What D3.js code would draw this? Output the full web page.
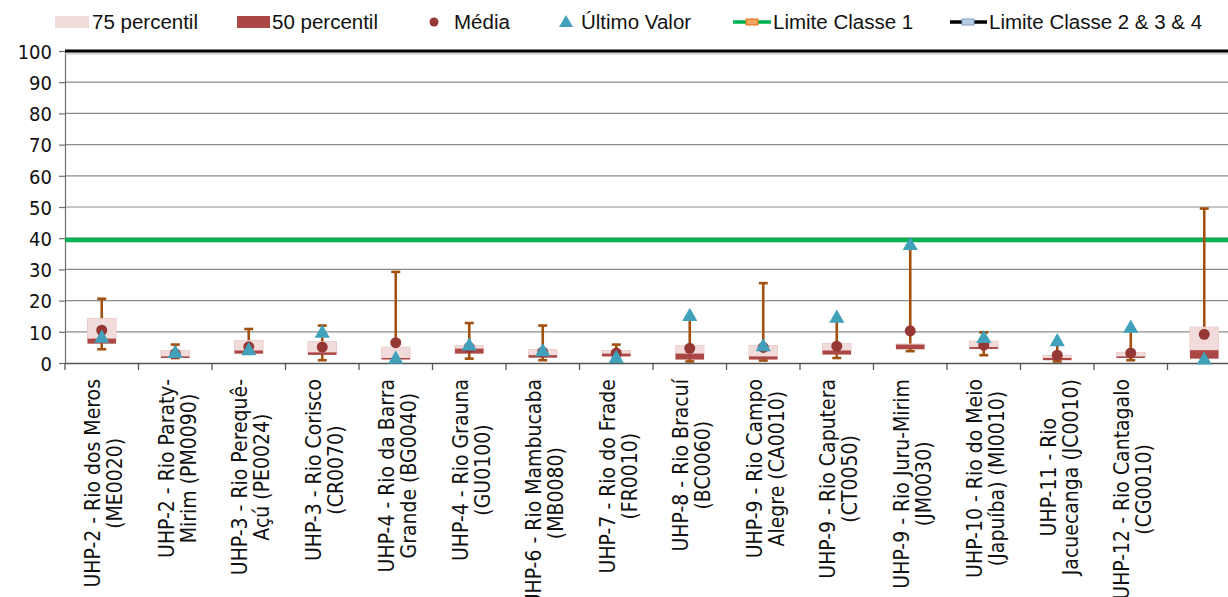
<!DOCTYPE html>
<html><head><meta charset="utf-8">
<script src="https://cdn.jsdelivr.net/npm/d3@7"></script>
<style>
html,body{margin:0;padding:0;background:#fff;overflow:hidden}
svg{display:block}
</style></head><body>
<svg id="chart" width="1228" height="597"></svg>
<script>
const categories = [
  "UHP-2 - Rio dos Meros\n(ME0020)",
  "UHP-2 - Rio Paraty-\nMirim (PM0090)",
  "UHP-3 - Rio Perequê-\nAçú (PE0024)",
  "UHP-3 - Rio Corisco\n(CR0070)",
  "UHP-4 - Rio da Barra\nGrande (BG0040)",
  "UHP-4 - Rio Grauna\n(GU0100)",
  "UHP-6 - Rio Mambucaba\n(MB0080)",
  "UHP-7 - Rio do Frade\n(FR0010)",
  "UHP-8 - Rio Bracuí\n(BC0060)",
  "UHP-9 - Rio Campo\nAlegre (CA0010)",
  "UHP-9 - Rio Caputera\n(CT0050)",
  "UHP-9 - Rio Juru-Mirim\n(JM0030)",
  "UHP-10 - Rio do Meio\n(Japuíba) (MI0010)",
  "UHP-11 - Rio\nJacuecanga (JC0010)",
  "UHP-12 - Rio Cantagalo\n(CG0010)",
  ""
];
const minV   = [4.4, 1.6, 3.0, 0.9, 1.3, 1.4, 0.9, 2.1, 0.5, 0.8, 1.6, 3.8, 2.5, 0.5, 0.9, 1.3];
const q1     = [6.2, 1.6, 3.0, 2.6, 1.3, 3.0, 1.7, 2.1, 1.1, 1.1, 2.7, 4.4, 4.5, 0.9, 1.8, 1.4];
const median = [7.8, 2.1, 4.0, 3.4, 1.6, 4.6, 2.5, 3.0, 3.0, 2.1, 4.0, 5.9, 5.1, 1.6, 2.1, 4.1];
const q3     = [14.3, 4.0, 7.2, 6.9, 5.1, 5.6, 4.3, 4.0, 5.6, 5.6, 6.3, 6.1, 7.0, 2.5, 3.4, 11.5];
const maxV   = [20.6, 5.9, 10.9, 12.0, 29.2, 12.8, 12.0, 5.9, 14.0, 25.6, 13.5, 37.3, 9.8, 6.5, 10.8, 49.5];
const mean   = [10.5, 3.0, 5.2, 5.1, 6.5, 5.0, 3.5, 3.2, 4.7, 5.0, 5.4, 10.3, 5.7, 2.5, 3.2, 9.2];
const last   = [7.9, 3.0, 3.9, 9.5, 1.2, 5.4, 3.6, 1.4, 14.9, 5.2, 14.3, 37.6, 7.8, 6.8, 11.1, 0.9];
const limit1 = 39.4;
const limit2 = 100;
const yTicks = [0,10,20,30,40,50,60,70,80,90,100];
const legendLabels = ["75 percentil","50 percentil","Média","Último Valor","Limite Classe 1","Limite Classe 2 & 3 & 4"];

const C = {light:"#F2DCDB", dark:"#AB4744", whisk:"#A0500F", mean:"#953735", tri:"#41A0BA", green:"#00B050"};

const svg = d3.select("#chart");
const pLeft = 65, pRight = 1241, pTop = 51, pBottom = 363;
const x = d3.scaleBand().domain(d3.range(categories.length)).range([pLeft, pRight]).padding(0);
const y = d3.scaleLinear().domain([0,100]).range([pBottom, pTop]);
const bw = x.bandwidth();
const boxW = bw * 0.39;

// gridlines
svg.append("g").selectAll("line").data(yTicks.filter(t => t>0 && t<100)).join("line")
  .attr("x1", pLeft).attr("x2", pRight).attr("y1", d=>y(d)).attr("y2", d=>y(d))
  .attr("stroke","#8c8c8c").attr("stroke-width",1.2);

// y axis
const yAxis = svg.append("g").attr("transform",`translate(${pLeft},0)`)
  .call(d3.axisLeft(y).tickValues(yTicks).tickSize(6).tickPadding(7));
yAxis.select(".domain").attr("stroke","#6e6e6e").attr("stroke-width",1.2);
yAxis.selectAll(".tick line").attr("stroke","#6e6e6e").attr("stroke-width",1.2);
yAxis.selectAll("text").attr("font-family","'DejaVu Sans Condensed','DejaVu Sans',sans-serif")
  .attr("font-size",20).attr("fill","#111").attr("dy","0.36em");

// x axis
const xAxis = svg.append("g").attr("transform",`translate(0,${pBottom})`)
  .call(d3.axisBottom(x).tickSize(0).tickFormat(""));
xAxis.select(".domain").attr("stroke","#555").attr("stroke-width",1.5);
svg.append("g").selectAll("line").data(d3.range(categories.length+1)).join("line")
  .attr("x1", i=>pLeft + i*bw).attr("x2", i=>pLeft + i*bw)
  .attr("y1", pBottom).attr("y2", pBottom+7).attr("stroke","#555").attr("stroke-width",1.3);

// x labels
const lab = svg.append("g");
categories.forEach((c,i) => {
  const lines = c.split("\n").filter(s=>s.length);
  if (!lines.length) return;
  const cx = x(i) + bw/2 + 2;
  const g = lab.append("g").attr("transform",`translate(${cx},379) rotate(-90)`);
  const ts = lines.map((ln,j) => g.append("text").text(ln)
    .attr("font-family","'DejaVu Sans Condensed','DejaVu Sans',sans-serif").attr("font-size",21)
    .attr("fill","#111").attr("text-anchor","middle")
    .attr("y", (j - (lines.length-1)/2)*22).attr("dy","0.35em"));
  const maxLen = d3.max(ts, t => t.node().getComputedTextLength());
  ts.forEach(t => t.attr("x", -maxLen/2));
});

// limit lines
svg.append("line").attr("x1",pLeft).attr("x2",pRight).attr("y1",y(limit2)+2.5).attr("y2",y(limit2)+2.5)
  .attr("stroke","#bbb").attr("stroke-width",2.5).attr("opacity",0.6);
svg.append("line").attr("x1",pLeft).attr("x2",pRight).attr("y1",y(limit2)).attr("y2",y(limit2))
  .attr("stroke","#000").attr("stroke-width",3.2);
svg.append("line").attr("x1",pLeft).attr("x2",pRight).attr("y1",y(limit1)).attr("y2",y(limit1))
  .attr("stroke",C.green).attr("stroke-width",4.5);

const idx = d3.range(categories.length);
// whiskers
const wg = svg.append("g");
wg.selectAll("line.w").data(idx).join("line").attr("class","w")
  .attr("x1",i=>x(i)+bw/2).attr("x2",i=>x(i)+bw/2)
  .attr("y1",i=>y(minV[i])).attr("y2",i=>y(maxV[i]))
  .attr("stroke",C.whisk).attr("stroke-width",2.6);
["min","max"].forEach(k => {
  const arr = k==="min"?minV:maxV;
  wg.selectAll("line."+k).data(idx).join("line").attr("class",k)
    .attr("x1",i=>x(i)+bw/2-4.5).attr("x2",i=>x(i)+bw/2+4.5)
    .attr("y1",i=>y(arr[i])).attr("y2",i=>y(arr[i]))
    .attr("stroke",C.whisk).attr("stroke-width",2.6);
});
// boxes
svg.append("g").selectAll("rect").data(idx).join("rect")
  .attr("x",i=>x(i)+bw/2-boxW/2).attr("width",boxW)
  .attr("y",i=>y(q3[i])).attr("height",i=>y(median[i])-y(q3[i]))
  .attr("fill",C.light).attr("stroke","#ecc9c8").attr("stroke-width",0.8);
svg.append("g").selectAll("rect").data(idx).join("rect")
  .attr("x",i=>x(i)+bw/2-boxW/2).attr("width",boxW)
  .attr("y",i=>y(median[i])).attr("height",i=>Math.max(1.5,y(q1[i])-y(median[i])))
  .attr("fill",C.dark);
// mean
svg.append("g").selectAll("circle").data(idx).join("circle")
  .attr("cx",i=>x(i)+bw/2).attr("cy",i=>y(mean[i])).attr("r",5.5).attr("fill",C.mean);
// last value
svg.append("g").selectAll("path").data(idx).join("path")
  .attr("d", d3.symbol(d3.symbolTriangle, 100))
  .attr("transform",i=>`translate(${x(i)+bw/2},${y(last[i])})`).attr("fill",C.tri);

// legend
const lg = svg.append("g").attr("font-family","'Liberation Sans',Arial,sans-serif").attr("font-size",20.5).attr("fill","#111");
const ly = 22;
lg.append("rect").attr("x",55).attr("y",ly-6).attr("width",34).attr("height",12).attr("fill",C.light);
lg.append("rect").attr("x",237).attr("y",ly-6).attr("width",33).attr("height",12).attr("fill",C.dark);
lg.append("circle").attr("cx",434).attr("cy",ly).attr("r",4.5).attr("fill",C.mean);
lg.append("path").attr("d",d3.symbol(d3.symbolTriangle,85)).attr("transform",`translate(566,${ly+1})`).attr("fill",C.tri);
lg.append("line").attr("x1",733).attr("x2",771).attr("y1",ly).attr("y2",ly).attr("stroke",C.green).attr("stroke-width",3.5);
lg.append("rect").attr("x",746).attr("y",ly-3).attr("width",12).attr("height",6).attr("fill","#F4A460").attr("stroke","#E46C0A").attr("stroke-width",1);
lg.append("line").attr("x1",950).attr("x2",987).attr("y1",ly).attr("y2",ly).attr("stroke","#000").attr("stroke-width",3.5);
lg.append("rect").attr("x",962).attr("y",ly-3).attr("width",12).attr("height",6).attr("fill","#B7CCE6").attr("stroke","#7D9CC9").attr("stroke-width",1);
const lx = [92, 272, 454, 581, 773, 989];
legendLabels.forEach((t,i) => lg.append("text").attr("x",lx[i]).attr("y",ly).attr("dy","0.35em").text(t));
</script>
</body></html>
